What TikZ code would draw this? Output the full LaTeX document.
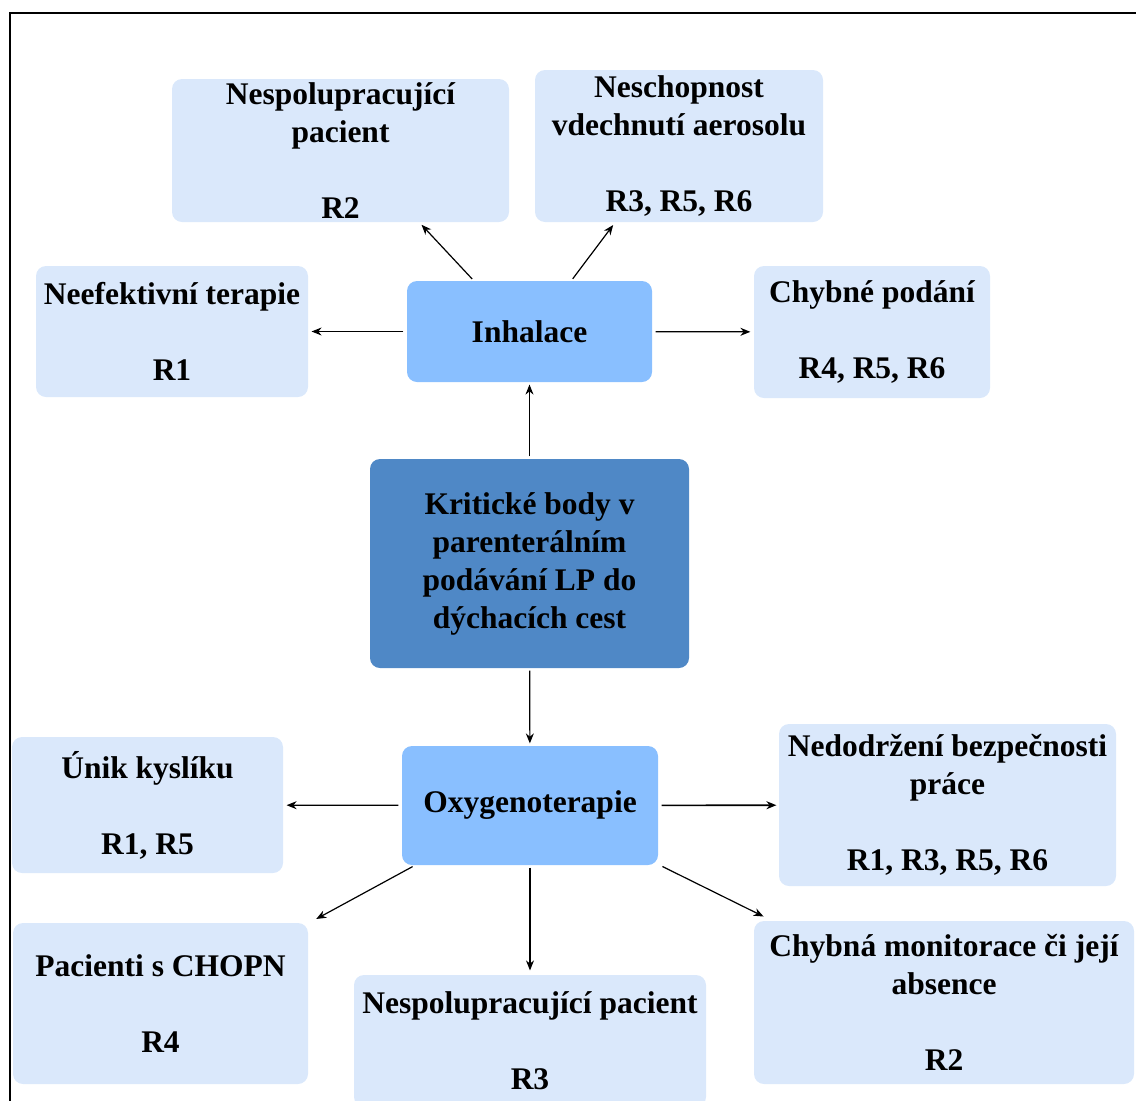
\documentclass[tikz,border=0pt]{standalone}
\usepackage{fontspec}
\setmainfont{Liberation Serif}
\usetikzlibrary{arrows.meta}

\definecolor{lightbox}{RGB}{218,232,251}
\definecolor{midbox}{RGB}{137,191,255}
\definecolor{darkbox}{RGB}{79,136,198}

\tikzset{
    riskbox/.style={fill=lightbox,rounded corners=10,inner sep=0,align=center,
                    font=\fontsize{31.5}{38}\selectfont\bfseries},
    methodbox/.style={riskbox,fill=midbox},
    mainbox/.style={riskbox,fill=darkbox}
}

\begin{document}
\begin{tikzpicture}[x=1pt,y=-1pt,>={Stealth[length=10pt,width=8pt]},line width=1.2pt]
        \useasboundingbox (0,0) rectangle (1136,1101);
        \draw[line width=2] (10,13) rectangle (1160,1130);

        % center
        \node (main)    at (529.5,563.5) [mainbox,minimum width=319,minimum height=209] {Kritické body v\\parenterálním\\podávání LP do\\dýchacích cest};
        \node (inh)     at (529.5,331.5) [methodbox,minimum width=245,minimum height=101] {Inhalace};
        \node (oxy)     at (530,805.5)   [methodbox,minimum width=256,minimum height=119] {Oxygenoterapie};

        % inhalace
        \node (Inesp)   at (340.5,150.5) [riskbox,minimum width=337,minimum height=143] {Nespolupracující\\pacient\\[38pt]R2};
        \node (Ivdech)  at (679,146)     [riskbox,minimum width=288,minimum height=152] {Neschopnost\\vdechnutí aerosolu\\[38pt]R3, R5, R6};
        \node (Ineef)   at (172,331.5)   [riskbox,minimum width=272,minimum height=131] {Neefektivní terapie\\[38pt]R1};
        \node (Ipodani) at (872,332)     [riskbox,minimum width=236,minimum height=132] {Chybné podání\\[38pt]R4, R5, R6};

        % oxygenoterapie
        \node (Ounik)   at (147.5,805)   [riskbox,minimum width=271,minimum height=136] {Únik kyslíku\\[38pt]R1, R5};
        \node (Obezp)   at (947.5,805)   [riskbox,minimum width=337,minimum height=162] {Nedodržení bezpečnosti\\práce\\[38pt]R1, R3, R5, R6};
        \node (Ochopn)  at (160.5,1003.5) [riskbox,minimum width=295,minimum height=161] {Pacienti s CHOPN\\[38pt]R4};
        \node (Onesp)   at (530,1041)    [riskbox,minimum width=352,minimum height=132] {Nespolupracující pacient\\[38pt]R3};
        \node (Omonit)  at (944,1002.5)  [riskbox,minimum width=380,minimum height=163] {Chybná monitorace či její\\absence\\[38pt]R2};

        \draw[->,shorten <=2pt,shorten >=2pt] (main) -- (inh);
        \draw[->,shorten <=2pt,shorten >=2pt] (main) -- (oxy);

        \draw[->,shorten <=2pt,shorten >=3pt] ([xshift=-56]inh.north) -- ([xshift=79]Inesp.south);
        \draw[->,shorten <=2pt,shorten >=3pt] ([xshift=42]inh.north) -- ([xshift=-64]Ivdech.south);
        \draw[->,shorten <=3pt,shorten >=3pt] (inh) -- (Ineef);
        \draw[->,shorten <=3pt,shorten >=3pt] (inh) -- (Ipodani);

        \draw[->,shorten <=3pt,shorten >=3pt] (oxy) -- (Ounik);
        \draw[->,line width=1.6pt,shorten <=3pt,shorten >=2pt] (oxy) -- (Obezp);
        \draw[->,shorten <=2pt,shorten >=3pt] ([xshift=13]oxy.south west) -- ([xshift=5,yshift=2]Ochopn.north east);
        \draw[->,shorten <=2pt,shorten >=4pt] (oxy) -- (Onesp);
        \draw[->,shorten <=2pt,shorten >=2pt] ([xshift=2]oxy.south east) -- ([xshift=12,yshift=3]Omonit.north west);
    \end{tikzpicture}
\end{document}
